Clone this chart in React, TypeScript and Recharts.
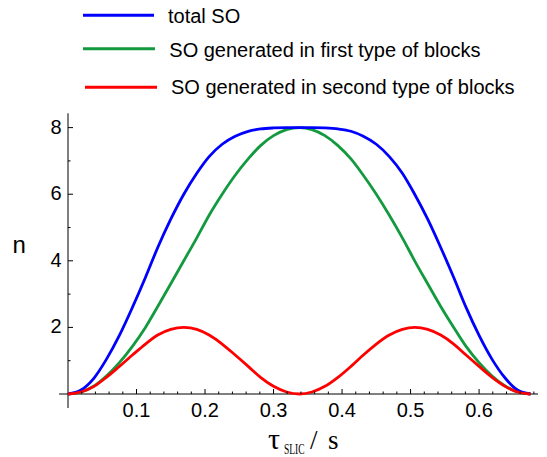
import { LineChart, Line, XAxis, YAxis, Legend, ReferenceLine } from 'recharts'

// tau_SLIC (s)
const tau = [
  0, 0.019, 0.038, 0.056, 0.075, 0.094, 0.113, 0.131, 0.15, 0.169, 0.188, 0.206, 0.225,
  0.244, 0.263, 0.281, 0.3, 0.319, 0.338, 0.356, 0.375, 0.394, 0.413, 0.431, 0.45, 0.469,
  0.488, 0.506, 0.525, 0.544, 0.563, 0.581, 0.6, 0.619, 0.638, 0.656, 0.675,
]
const totalSO = [
  0, 0.12, 0.48, 1.04, 1.76, 2.6, 3.5, 4.4, 5.25, 6.0, 6.63, 7.13, 7.5,
  7.74, 7.89, 7.96, 7.99, 8.0, 8.0, 8.0, 7.99, 7.96, 7.89, 7.74, 7.5, 7.13,
  6.63, 6.0, 5.25, 4.4, 3.5, 2.6, 1.76, 1.04, 0.48, 0.12, 0,
]
const firstType = [
  0, 0.06, 0.24, 0.54, 0.94, 1.43, 2.0, 2.63, 3.31, 4.0, 4.69, 5.37, 6.0,
  6.57, 7.06, 7.46, 7.76, 7.94, 8.0, 7.94, 7.76, 7.46, 7.06, 6.57, 6.0, 5.37,
  4.69, 4.0, 3.31, 2.63, 2.0, 1.43, 0.94, 0.54, 0.24, 0.06, 0,
]
const secondType = [
  0, 0.06, 0.23, 0.5, 0.83, 1.17, 1.5, 1.77, 1.94, 2.0, 1.94, 1.77, 1.5,
  1.17, 0.83, 0.5, 0.23, 0.06, 0, 0.06, 0.23, 0.5, 0.83, 1.17, 1.5, 1.77,
  1.94, 2.0, 1.94, 1.77, 1.5, 1.17, 0.83, 0.5, 0.23, 0.06, 0,
]

const seriesKeys = ['total', 'first', 'second']
const seriesNames = [
  'total SO',
  'SO generated in first type of blocks',
  'SO generated in second type of blocks',
]
const seriesColors = ['#0000ff', '#139a3f', '#ff0000']
// draw order: green under blue, red on top
const drawOrder = [1, 0, 2]

const xTicks = [
  0.02, 0.04, 0.06, 0.08, 0.1, 0.12, 0.14, 0.16, 0.18, 0.2, 0.22, 0.24, 0.26, 0.28, 0.3,
  0.32, 0.34, 0.36, 0.38, 0.4, 0.42, 0.44, 0.46, 0.48, 0.5, 0.52, 0.54, 0.56, 0.58, 0.6,
  0.62, 0.64, 0.66, 0.68,
]
const yTicks = [1, 2, 3, 4, 5, 6, 7, 8]

const data = tau.map((t, i) => ({
  t,
  total: totalSO[i],
  first: firstType[i],
  second: secondType[i],
}))

const sans = "'Liberation Sans', Arial, sans-serif"
const serif = "'Liberation Serif', 'Times New Roman', serif"

const XTick = (props: any) => {
  const { x, y, payload } = props
  const v = payload.value as number
  const major = Math.abs(v * 10 - Math.round(v * 10)) < 1e-6
  return (
    <g>
      <line x1={x} x2={x} y1={y} y2={y - (major ? 5 : 2.5)} stroke="#000" strokeWidth={1} />
      {major && (
        <text x={x} y={y + 23} textAnchor="middle" fontSize={20} fontFamily={sans} fill="#000">
          {v.toFixed(1)}
        </text>
      )}
    </g>
  )
}

const YTick = (props: any) => {
  const { x, y, payload } = props
  const v = payload.value as number
  const major = v % 2 === 0
  return (
    <g>
      <line x1={x} x2={x + (major ? 5 : 2.5)} y1={y} y2={y} stroke="#000" strokeWidth={1} />
      {major && (
        <text x={x - 6.5} y={y + 6} textAnchor="end" fontSize={20} fontFamily={sans} fill="#000">
          {v}
        </text>
      )}
    </g>
  )
}

// legend rows: line start/end, line y, text x, text baseline
const legendRows = [
  { x1: 83, x2: 154, ly: 15.3, tx: 168, ty: 22.7 },
  { x1: 83, x2: 155, ly: 48.7, tx: 169.3, ty: 56.7 },
  { x1: 85, x2: 157, ly: 87.3, tx: 171, ty: 94.3 },
]

const LegendBox = () => (
  <svg width={547} height={100} style={{ display: 'block' }}>
    {legendRows.map((r, i) => (
      <g key={i}>
        <line x1={r.x1} x2={r.x2} y1={r.ly} y2={r.ly} stroke={seriesColors[i]} strokeWidth={3} />
        <text x={r.tx} y={r.ty} fontSize={20} fontFamily={sans} fill="#000">
          {seriesNames[i]}
        </text>
      </g>
    ))}
  </svg>
)

const XLabel = () => (
  <g fontFamily={serif} fill="#000">
    <text x={268} y={449} fontSize={30}>τ</text>
    <text transform="translate(284 454) scale(0.68 1)" fontSize={14}>SLIC</text>
    <text x={310} y={449} fontSize={27}>/</text>
    <text x={328} y={449} fontSize={27}>s</text>
  </g>
)

export default function App() {
  return (
    <div style={{ position: 'absolute', left: 0, top: 0, width: 547, height: 457, background: '#fff' }}>
      <LineChart
        width={547}
        height={457}
        data={data}
        margin={{ top: 113.3, right: 9, bottom: 0, left: 0 }}
      >
        <XAxis
          dataKey="t"
          type="number"
          domain={[0, 0.686]}
          ticks={xTicks}
          interval={0}
          axisLine={false}
          tickLine={false}
          tickSize={0}
          tickMargin={0}
          height={63}
          tick={<XTick />}
          label={() => <XLabel />}
        />
        <YAxis
          type="number"
          domain={[0, 8.43]}
          ticks={yTicks}
          interval={0}
          axisLine={false}
          tickLine={false}
          tickSize={0}
          tickMargin={0}
          width={68}
          tick={<YTick />}
          label={() => (
            <text x={12.5} y={253} fontFamily={sans} fontSize={24} fill="#000">
              n
            </text>
          )}
        />
        <ReferenceLine
          segment={[{ x: -0.013, y: 0 }, { x: 0.686, y: 0 }]}
          stroke="#000"
          strokeWidth={1}
          ifOverflow="visible"
        />
        <ReferenceLine
          segment={[{ x: 0, y: -0.42 }, { x: 0, y: 8.43 }]}
          stroke="#000"
          strokeWidth={1}
          ifOverflow="visible"
        />
        {drawOrder.map((i) => (
          <Line
            key={seriesKeys[i]}
            dataKey={seriesKeys[i]}
            name={seriesNames[i]}
            type="monotone"
            stroke={seriesColors[i]}
            strokeWidth={2.8}
            dot={false}
            activeDot={false}
            isAnimationActive={false}
          />
        ))}
        <Legend
          layout="vertical"
          align="center"
          verticalAlign="middle"
          wrapperStyle={{ top: 0, left: 0, width: 547, height: 100 }}
          content={() => <LegendBox />}
        />
      </LineChart>
    </div>
  )
}
